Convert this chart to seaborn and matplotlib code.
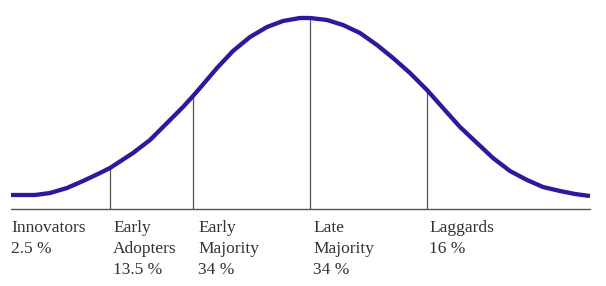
import numpy as np
import matplotlib
matplotlib.use("Agg")
import matplotlib.pyplot as plt
import seaborn as sns
import pandas as pd

sns.set_theme(style="white")
plt.rcParams['font.family'] = ['Liberation Serif', 'DejaVu Serif']

# Bell curve: position (relative to the peak) and height above the flat tail
curve_x = [-299, -275, -260, -243, -227, -210, -200, -177, -160, -143, -127, -117, -110,
           -93, -77, -60, -43, -27, -10, 0, 17, 33, 50, 67, 83, 100, 117, 133, 150,
           167, 183, 200, 217, 233, 250, 265, 280]
curve_h = [0, 0, 2, 7, 14, 22, 27, 42, 55, 72, 88, 99, 107,
           127, 144, 158, 168, 174, 177, 177, 175, 170, 162, 150, 137, 122, 105, 87, 68,
           52, 37, 24, 15, 8, 4, 1, -1]

# Segment boundaries and labels
bounds = [-200, -117, 0, 117]
label_pos = [-299, -197, -112, 3, 119]
labels = [["Innovators", "2.5 %"],
          ["Early", "Adopters", "13.5 %"],
          ["Early", "Majority", "34 %"],
          ["Late", "Majority", "34 %"],
          ["Laggards", "16 %"]]

df = pd.DataFrame({"x": curve_x, "h": curve_h})

fig = plt.figure(figsize=(6.06, 2.86), dpi=100)
ax = fig.add_axes([0, 0, 1, 1])

base = -14
ax.plot([curve_x[0], curve_x[-1]], [base, base], color="#555555", lw=1.0, zorder=1)
for b in bounds:
    top = np.interp(b, curve_x, curve_h)
    ax.plot([b, b], [base, top], color="#555555", lw=0.9, zorder=1)

sns.lineplot(data=df, x="x", y="h", ax=ax, color="#2A1A9C", lw=3.1, zorder=3,
             solid_joinstyle="round", solid_capstyle="butt")

line_gap = 21
for xp, lines in zip(label_pos, labels):
    for i, t in enumerate(lines):
        ax.text(xp, -37 - i * line_gap, t, ha="left", va="baseline",
                fontsize=12.5, color="#333333")

ax.set_xlim(-310, 296)
ax.set_ylim(-91, 195)
ax.axis("off")
fig.savefig("out.png", dpi=100)
